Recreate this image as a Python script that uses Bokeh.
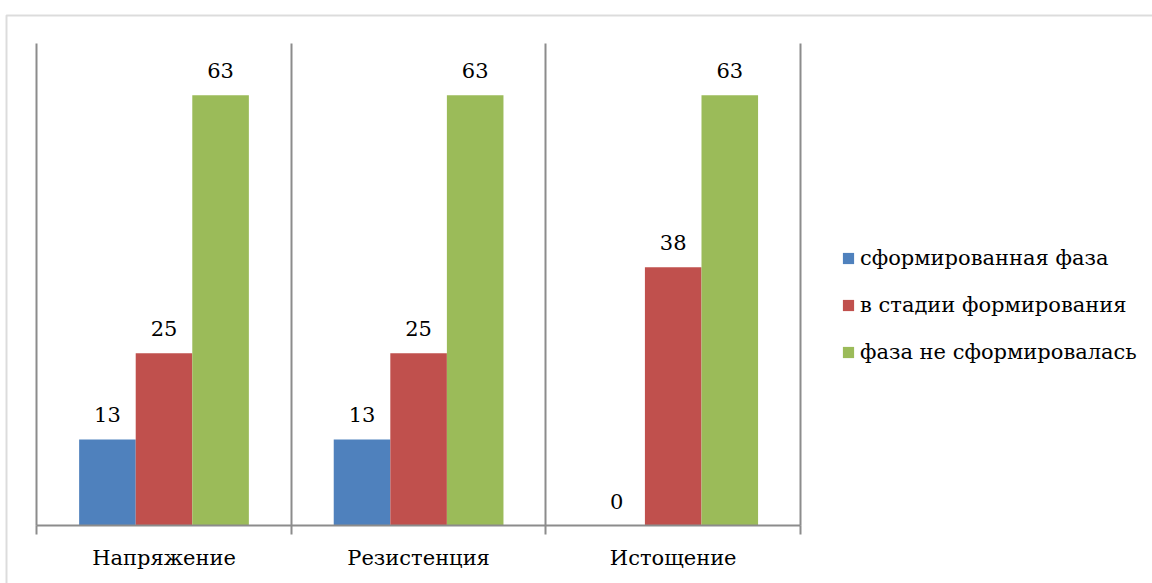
import math
from bokeh.plotting import figure
from bokeh.models import (ColumnDataSource, FixedTicker, LabelSet, BoxAnnotation, Range1d,
                          LinearAxis)
from bokeh.transform import dodge
from bokeh.core.properties import value
from bokeh.embed import file_html
from bokeh.resources import INLINE

categories = ["Напряжение", "Резистенция", "Истощение"]
series_names = ["сформированная фаза", "в стадии формирования", "фаза не сформировалась"]
formed = [12.5, 12.5, 0]
forming = [25, 25, 37.5]
not_formed = [62.5, 62.5, 62.5]
colors = ["#4F81BD", "#C0504D", "#9BBB59"]
y_max = 70

FONT = "DejaVu Serif"
FS = "21px"
GRID = "#8c8c8c"

W, H = 1152, 583
# layout anchors (canvas pixels)
PX_LEFT = 36.2      # left edge of the category area
PX_PER_CAT = 254.6
PX_ZERO = 525.0     # y of the value axis zero
PX_TOP = 43.0       # y of y_max


def lbl(vals):
    return [str(int(math.floor(v + 0.5))) for v in vals]


n = len(categories)
idx = list(range(n))
edges = [i - 0.5 for i in range(n + 1)]
src = ColumnDataSource(dict(
    idx=idx,
    formed=formed, forming=forming, not_formed=not_formed,
    formed_lbl=lbl(formed), forming_lbl=lbl(forming), not_formed_lbl=lbl(not_formed),
))

x0 = -0.5 - PX_LEFT / PX_PER_CAT
x1 = x0 + W / PX_PER_CAT
ppu = (PX_ZERO - PX_TOP) / y_max
y1 = y_max + PX_TOP / ppu
y0 = -(H - PX_ZERO) / ppu

p = figure(width=W, height=H, x_range=Range1d(x0, x1), y_range=Range1d(y0, y1),
           y_axis_location=None, output_backend="svg", toolbar_location=None,
           min_border=0)
p.outline_line_color = None
p.background_fill_color = "white"
p.border_fill_color = "white"
p.xgrid.visible = False
p.ygrid.visible = False

w = 2.0 / 9.0
fields = ["formed", "forming", "not_formed"]
offsets = [-w, 0.0, w]
for f, off, c, name in zip(fields, offsets, colors, series_names):
    p.vbar(x=dodge("idx", off, range=p.x_range), top=f, width=w, source=src,
           fill_color=c, line_color=None, legend_label=name)
    p.add_layout(LabelSet(x=dodge("idx", off, range=p.x_range), y=f, text=f + "_lbl", source=src,
                          text_align="center", text_baseline="alphabetic", y_offset=17,
                          text_font=value(FONT), text_font_size=value(FS), text_color="black"))

# category axis: labels at category centres, tick marks at category boundaries
ax = p.xaxis[0]
ax.fixed_location = 0
ax.bounds = (edges[0], edges[-1])
ax.ticker = FixedTicker(ticks=idx, minor_ticks=edges)
ax.major_label_overrides = {i: c for i, c in enumerate(categories)}
ax.major_tick_line_color = None
ax.major_tick_out = 0
ax.major_tick_in = 0
ax.minor_tick_line_color = GRID
ax.minor_tick_line_width = 2
ax.minor_tick_out = 9
ax.minor_tick_in = 0
ax.axis_line_color = GRID
ax.axis_line_width = 2
ax.major_label_standoff = 11
ax.major_label_text_font = FONT
ax.major_label_text_font_size = FS
ax.major_label_text_color = "black"

# vertical separators between categories (axis lines at category boundaries)
for e in edges:
    sep = LinearAxis(fixed_location=e, bounds=(0, y_max), ticker=FixedTicker(ticks=[]),
                     axis_line_color=GRID, axis_line_width=2,
                     major_tick_line_color=None, minor_tick_line_color=None,
                     major_label_text_font_size="0px")
    p.add_layout(sep, "left")

lg = p.legend[0]
lg.location = (841, 216)
lg.border_line_color = None
lg.background_fill_alpha = 0
lg.padding = 0
lg.margin = 0
lg.spacing = 17
lg.glyph_width = 14
lg.glyph_height = 14
lg.label_height = 30
lg.label_standoff = 5
lg.label_text_font = FONT
lg.label_text_font_size = FS
lg.label_text_color = "black"

# outer chart border (its right and bottom sides lie beyond the picture)
p.add_layout(BoxAnnotation(left=6, right=3000, top=15, bottom=3000,
                           left_units="canvas", right_units="canvas",
                           top_units="canvas", bottom_units="canvas",
                           fill_alpha=0, line_color=GRID, line_width=2))

open("out.html", "w").write(file_html(p, INLINE))
